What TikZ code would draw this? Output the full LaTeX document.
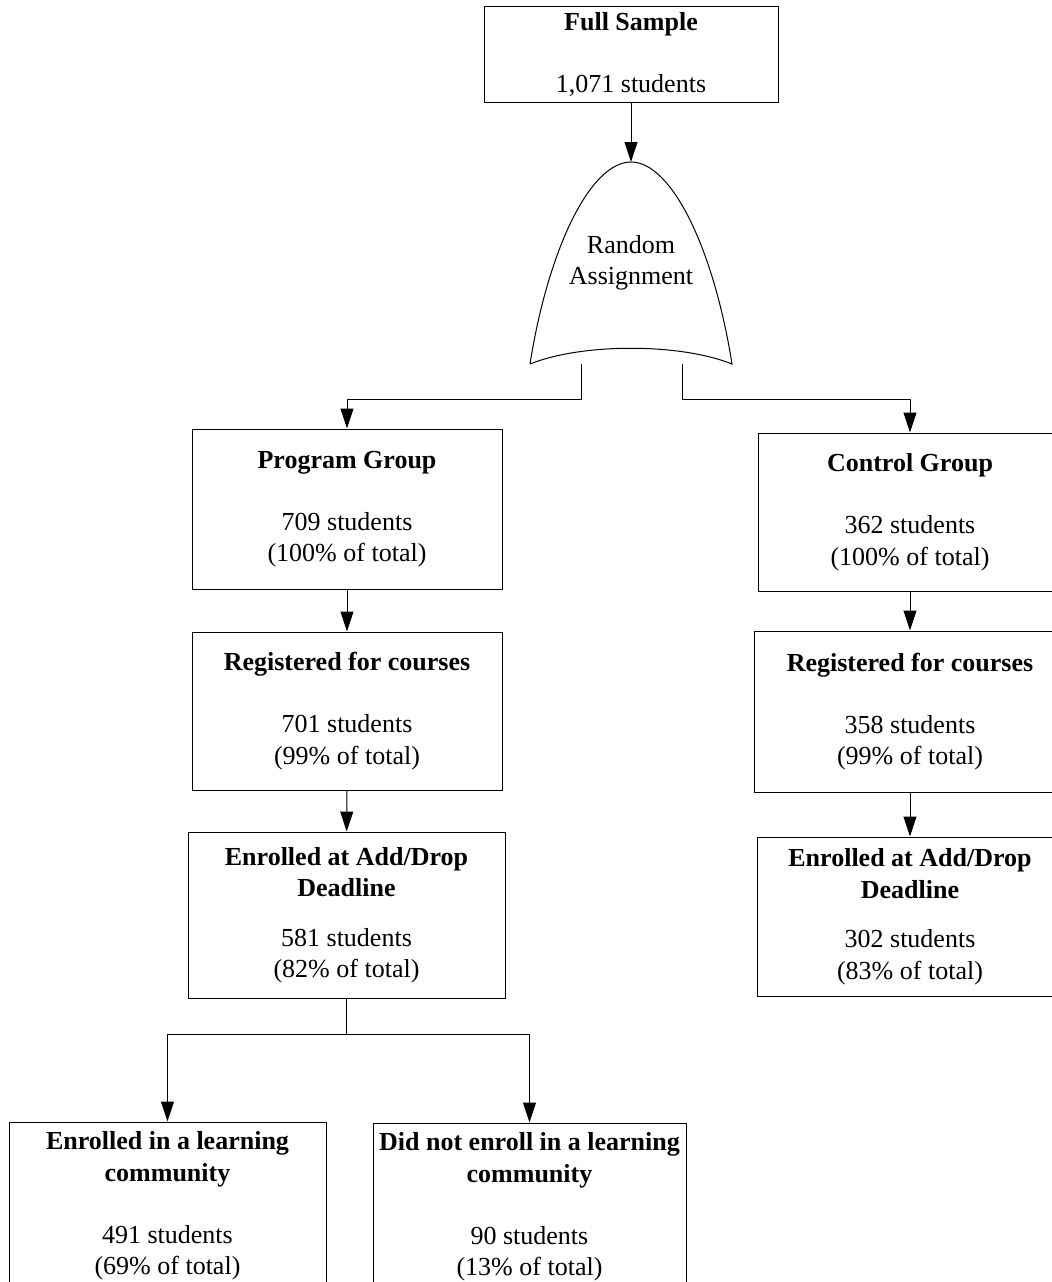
\documentclass[tikz,border=0pt]{standalone}
\usepackage{fontspec}
\setmainfont{Liberation Serif}
\usetikzlibrary{arrows.meta, positioning}

\begin{document}
\begin{tikzpicture}[x=0.5pt, y=-0.5pt]
  \tikzset{
    box/.style={
      draw,
      line width=0.5pt,
      align=center,
      inner sep=0pt,
      font=\fontsize{13}{15.75}\selectfont
    },
    plaintext/.style={
      align=center,
      inner sep=0pt,
      font=\fontsize{13}{15.75}\selectfont
    },
    arrowline/.style={
      line width=0.5pt,
      -{Triangle[length=10pt,width=6.5pt]}
    },
    plainline/.style={
      line width=0.5pt
    }
  }
  \useasboundingbox (0,0) rectangle (1052,1282);
  \clip (0,0) rectangle (1052,1282);

  % Full sample
  \node[box, minimum width=147pt, minimum height=48pt] at (631, 54) (full) {
    \textbf{Full Sample}\\[15.25pt] 1,071 students
  };

  % Random assignment shape
  \coordinate (apex) at (631, 162);
  \coordinate (bl) at (530, 364);
  \coordinate (br) at (732, 364);
  \coordinate (rL) at (581, 364);
  \coordinate (rR) at (682, 364);
  \node[plaintext] at (631, 263) (rand) {Random\\Assignment};
  \draw[plainline] (bl) .. controls (548, 250) and (590, 162) .. (apex)
    .. controls (672, 162) and (714, 250) .. (br)
    .. controls (680, 343) and (582, 343) .. (bl);
  \draw[arrowline] (full.south) -- (apex);

  % Program group column
  \node[box, minimum width=155pt, minimum height=80pt] at (347, 509) (prog) {
    \textbf{Program Group}\\[15.25pt] 709 students\\ (100\% of total)
  };
  \node[box, minimum width=155pt, minimum height=79pt] at (347, 711) (preg) {
    \textbf{Registered for courses}\\[15.25pt] 701 students\\ (99\% of total)
  };
  \node[box, minimum width=158.5pt, minimum height=83pt] at (346.5, 915) (penr) {
    \textbf{Enrolled at Add/Drop}\\ \textbf{Deadline}\\[9pt] 581 students\\ (82\% of total)
  };

  % Control group column
  \node[box, minimum width=152pt, minimum height=79pt] at (910, 512) (cgrp) {
    \textbf{Control Group}\\[15.25pt] 362 students\\ (100\% of total)
  };
  \node[box, minimum width=156pt, minimum height=80.5pt] at (910, 711.5) (creg) {
    \textbf{Registered for courses}\\[15.25pt] 358 students\\ (99\% of total)
  };
  \node[box, minimum width=153pt, minimum height=79.5pt] at (910, 916.5) (cenr) {
    \textbf{Enrolled at Add/Drop}\\ \textbf{Deadline}\\[9pt] 302 students\\ (83\% of total)
  };

  % Learning community split
  \node[box, minimum width=158.5pt, minimum height=84pt] at (167.5, 1206) (lc) {
    \textbf{Enrolled in a learning}\\ \textbf{community}\\[15.25pt] 491 students\\ (69\% of total)
  };
  \node[box, minimum width=156.5pt, minimum height=84pt] at (529.5, 1207) (nlc) {
    \textbf{Did not enroll in a learning}\\ \textbf{community}\\[15.25pt] 90 students\\ (13\% of total)
  };

  % Connectors
  \draw[arrowline] (rL) -- ++(0, 35) -| (prog.north);
  \draw[arrowline] (rR) -- ++(0, 35) -| (cgrp.north);
  \draw[arrowline] (prog) -- (preg);
  \draw[arrowline] (preg) -- (penr);
  \draw[arrowline] (cgrp) -- (creg);
  \draw[arrowline] (creg) -- (cenr);
  \draw[plainline] (penr.south) -- ++(0, 36) coordinate (split);
  \draw[arrowline] (split) -| (lc.north);
  \draw[arrowline] (split) -| (nlc.north);
\end{tikzpicture}
\end{document}
